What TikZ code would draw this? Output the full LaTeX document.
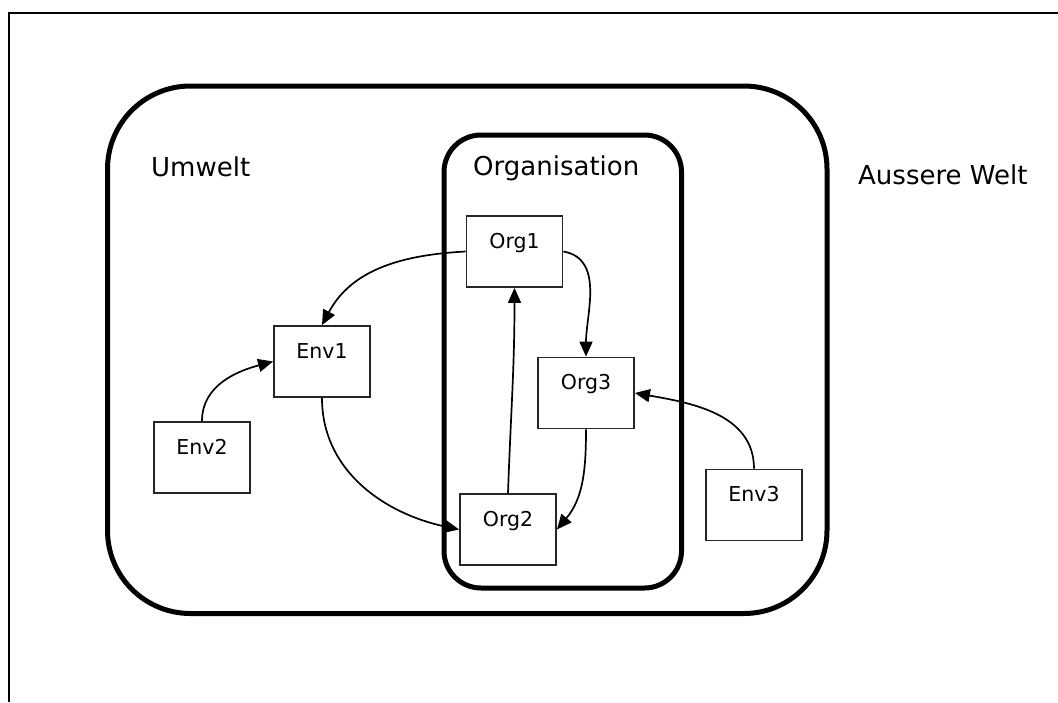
\documentclass[tikz,border=0pt]{standalone}
\usepackage{fontspec}
\setmainfont{DejaVu Sans}
\usetikzlibrary{arrows.meta}
\tikzset{
  box/.style={draw=black!85, line width=1.8pt, fill=white, inner sep=0pt,
    text width=96pt, align=center, text height=32pt, text depth=39pt,
    font=\fontsize{20.5}{24}\selectfont},
  region/.style={line width=5pt},
  title/.style={anchor=base west, inner sep=0pt, font=\fontsize{26}{31}\selectfont},
  flow/.style={line width=1.7pt, -{Triangle[length=15pt,width=13pt]}}
}
\begin{document}
\begin{tikzpicture}[x=1pt,y=-1pt]
  \useasboundingbox (0,0) rectangle (1058,702);
  % page frame
  \draw[line width=2pt] (9,702) -- (9,12.5) -- (1058,12.5);

  % environment and organisation regions
  \draw[region, rounded corners=83pt] (107.5,86) rectangle (827,613.5);
  \draw[region, rounded corners=37pt] (444,135) rectangle (681.5,588);

  % region titles
  \node[title] (tUmwelt) at (151,176) {Umwelt};
  \node[title] (tOrg) at (473,175) {Organisation};
  \node[title] (tWelt) at (858,184) {Aussere Welt};

  % elements
  \node[box] (org1) at (514.5,251.5) {Org1};
  \node[box] (env1) at (322,361.5) {Env1};
  \node[box] (env2) at (202,457.5) {Env2};
  \node[box] (org3) at (586,393) {Org3};
  \node[box] (org2) at (508,529.5) {Org2};
  \node[box] (env3) at (754,505) {Env3};

  % relations
  \draw[flow] (org1.west) to[out=183, in=62] (env1.north);
  \draw[flow] (env2.north) to[out=90, in=195] (env1.west);
  \draw[flow] (env1.south) to[out=-90, in=168] (org2.west);
  \draw[flow] (org2.north) to[out=88, in=-90] (org1.south);
  \draw[flow] (org1.east) to[out=-10, in=90] (org3.north);
  \draw[flow] (org3.south) to[out=-90, in=50] (org2.east);
  \draw[flow] (env3.north) to[out=90, in=-10] (org3.east);
\end{tikzpicture}
\end{document}
